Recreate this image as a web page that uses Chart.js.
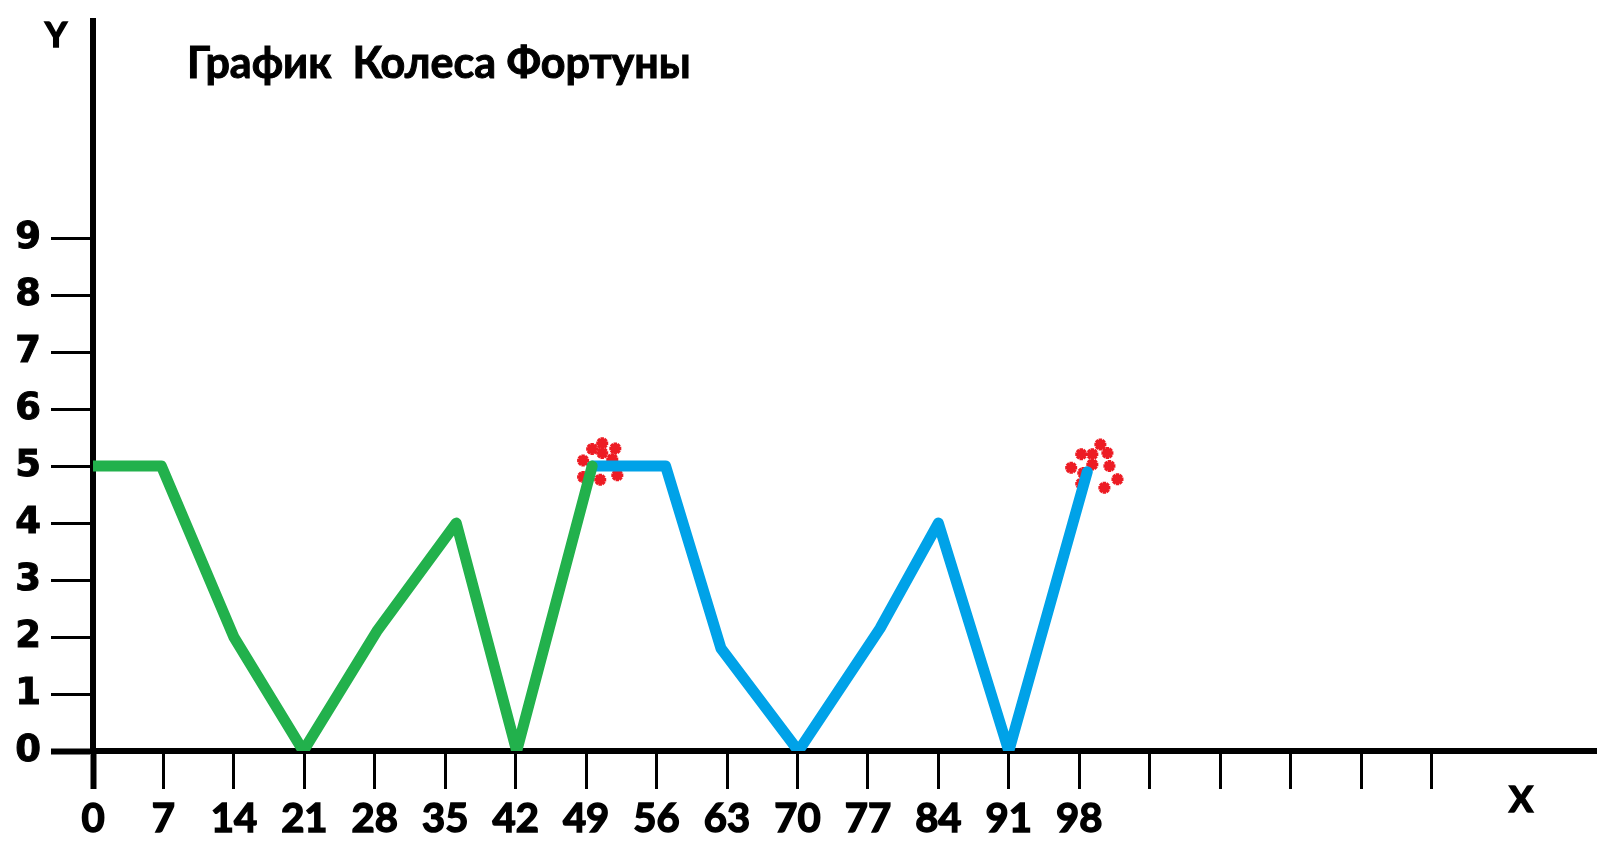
<!DOCTYPE html>
<html>
<head>
<meta charset="utf-8">
<title>График Колеса Фортуны</title>
<script src="https://cdn.jsdelivr.net/npm/chart.js@4/dist/chart.umd.min.js"></script>
<style>
  html, body { margin: 0; padding: 0; background: #fff; }
  canvas { display: block; }
</style>
</head>
<body>
<canvas id="wheelChart" width="1606" height="843"></canvas>
<script>
// first run (green) and second run (blue)
var greenX = [0, 6.8, 14, 20.9, 28.2, 36.1, 42.1, 49.6];
var greenY = [5, 5, 2, 0, 2.1, 4, 0, 5];
var blueX = [49.6, 56.9, 62.4, 70.1, 78.2, 84, 91, 98.8];
var blueY = [5, 5, 1.8, 0, 2.15, 4, 0, 4.9];

// red sparks at the two peaks
var sparkX = [49.6, 50.6, 50.6, 51.9, 48.7, 48.7, 50.4, 52.1, 51.6,
              100.1, 98.2, 99.3, 100.8, 97.2, 98.4, 99.3, 101.0, 101.8, 98.2, 100.5];
var sparkY = [5.3, 5.4, 5.23, 5.31, 5.1, 4.81, 4.76, 4.84, 5.12,
              5.38, 5.21, 5.21, 5.23, 4.97, 4.88, 5.03, 5.0, 4.77, 4.69, 4.62];

// axis ticks
var yTicks = [0, 1, 2, 3, 4, 5, 6, 7, 8, 9];
var xTickMarks = [0, 7, 14, 21, 28, 35, 42, 49, 56, 63, 70, 77, 84, 91, 98, 105, 112, 119, 126, 133];
var xTickLabels = [0, 7, 14, 21, 28, 35, 42, 49, 56, 63, 70, 77, 84, 91, 98];

function toPoints(xs, ys) {
    return xs.map(function(x, i) { return { x: x, y: ys[i] }; });
}

// title and axis letters
var textPlugin = {
    id: 'handText',
    afterDraw: function(chart) {
        var c = chart.ctx;
        c.save();
        c.fillStyle = '#000';
        c.strokeStyle = '#000';
        c.lineWidth = 1;
        c.textBaseline = 'alphabetic';
        c.textAlign = 'left';
        c.font = 'bold 43px Lato';
        c.fillText('График  Колеса Фортуны', 187, 78);
        c.strokeText('График  Колеса Фортуны', 187, 78);
        c.textAlign = 'center';
        c.textBaseline = 'middle';
        c.lineWidth = 1.5;
        c.font = 'bold 34px Lato';
        c.fillText('Y', 56, 36);
        c.strokeText('Y', 56, 36);
        c.font = 'bold 36px Lato';
        c.fillText('X', 1521, 800);
        c.strokeText('X', 1521, 800);
        c.restore();
    }
};

var ctx = document.getElementById('wheelChart').getContext('2d');

new Chart(ctx, {
    type: 'line',
    data: {
        datasets: [
            {
                label: 'green',
                data: toPoints(greenX, greenY),
                borderColor: '#22B14C',
                borderWidth: 11,
                borderCapStyle: 'round',
                borderJoinStyle: 'round',
                pointRadius: 0,
                fill: false,
                tension: 0
            },
            {
                label: 'blue',
                data: toPoints(blueX, blueY),
                borderColor: '#00A2E8',
                borderWidth: 11,
                borderCapStyle: 'round',
                borderJoinStyle: 'round',
                pointRadius: 0,
                fill: false,
                tension: 0
            },
            {
                type: 'scatter',
                label: 'sparks',
                data: toPoints(sparkX, sparkY),
                pointStyle: 'star',
                pointRadius: 6,
                borderWidth: 3.5,
                borderColor: '#ED1C24',
                backgroundColor: '#ED1C24'
            }
        ]
    },
    options: {
        responsive: false,
        animation: false,
        layout: { padding: { top: 0, left: 0, right: 0, bottom: 0 } },
        plugins: {
            legend: { display: false },
            tooltip: { enabled: false }
        },
        scales: {
            x: {
                type: 'linear',
                min: 0,
                max: 149.4,
                afterFit: function(scale) { scale.height = 92; },
                afterBuildTicks: function(scale) {
                    scale.ticks = xTickMarks.map(function(v) { return { value: v }; });
                },
                border: { display: true, color: '#000', width: 6 },
                grid: {
                    drawOnChartArea: false,
                    drawTicks: true,
                    tickLength: 38,
                    tickColor: '#000',
                    tickWidth: function(c) { return c.tick && c.tick.value === 0 ? 6 : 3; }
                },
                ticks: {
                    autoSkip: false,
                    maxRotation: 0,
                    padding: 6,
                    color: '#000',
                    textStrokeColor: '#000',
                    textStrokeWidth: 1.5,
                    font: { family: 'Lato', weight: 'bold', size: 40 },
                    callback: function(v) { return xTickLabels.indexOf(v) >= 0 ? String(v) : ''; }
                }
            },
            y: {
                type: 'linear',
                min: 0,
                max: 12.81,
                afterFit: function(scale) { scale.width = 93; },
                afterBuildTicks: function(scale) {
                    scale.ticks = yTicks.map(function(v) { return { value: v }; });
                },
                border: { display: true, color: '#000', width: 6 },
                grid: {
                    drawOnChartArea: false,
                    drawTicks: true,
                    tickLength: 42,
                    tickColor: '#000',
                    tickWidth: function(c) { return c.tick && c.tick.value === 0 ? 6 : 3; }
                },
                ticks: {
                    padding: 10,
                    color: '#000',
                    textStrokeColor: '#000',
                    textStrokeWidth: 1,
                    font: { family: 'DejaVu Sans', weight: 'bold', size: 37, lineHeight: 0.6 }
                }
            }
        }
    },
    plugins: [textPlugin]
});
</script>
</body>
</html>
